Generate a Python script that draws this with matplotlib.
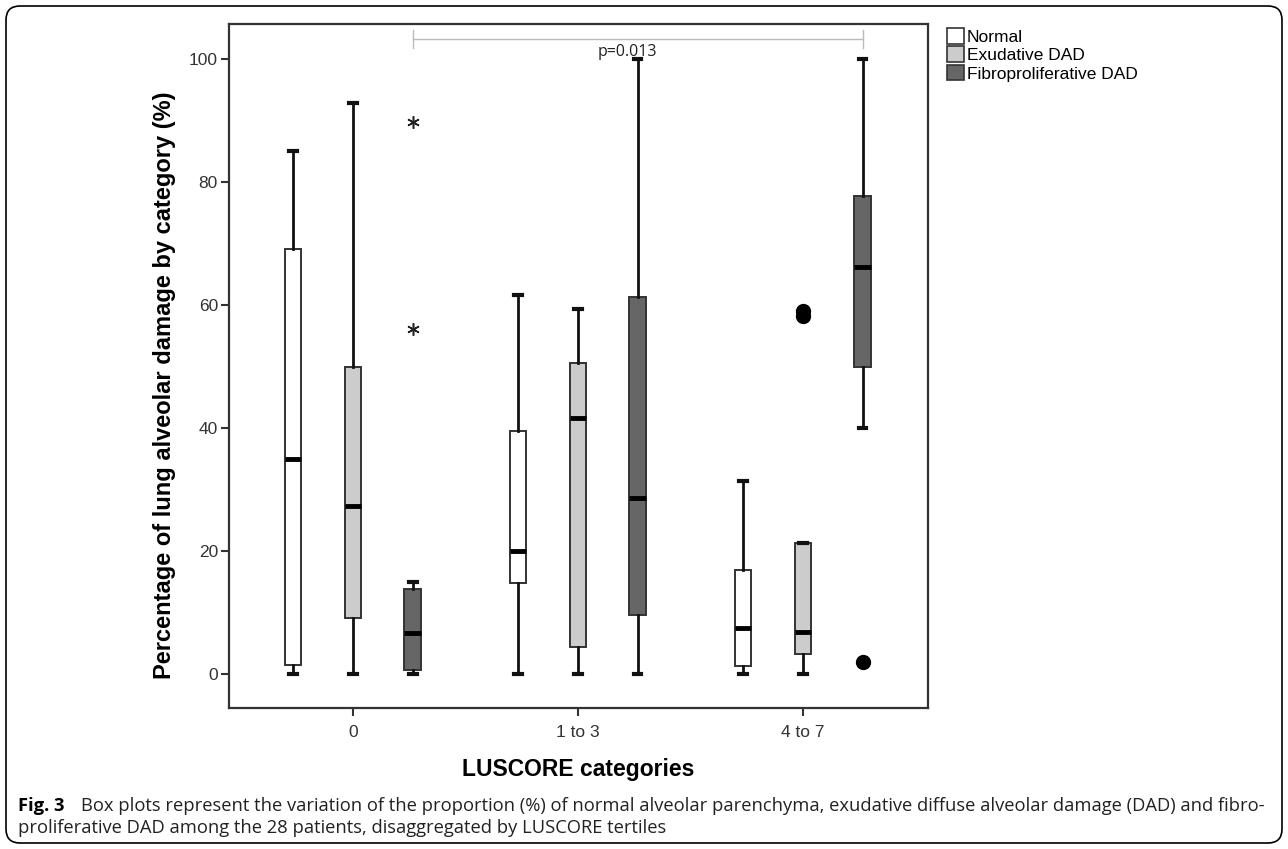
import numpy as np
import matplotlib
matplotlib.use("Agg")
import matplotlib.pyplot as plt
import matplotlib.patches as mpatches
from matplotlib.transforms import IdentityTransform

# data (percent)
groups = ["0", "1 to 3", "4 to 7"]
series = ["Normal", "Exudative DAD", "Fibroproliferative DAD"]
colors = ["#ffffff", "#cccccc", "#666666"]

# rows = series, cols = groups
whislo = [[0, 0, 0], [0, 0, 0], [0, 0, 40.0]]
q1 = [[1.5, 14.8, 1.3], [9.1, 4.4, 3.3], [0.7, 9.6, 49.9]]
med = [[35.0, 20.0, 7.5], [27.3, 41.6, 6.8], [6.7, 28.6, 66.2]]
q3 = [[69.1, 39.5, 16.9], [49.9, 50.6, 21.3], [13.8, 61.3, 77.7]]
whishi = [[85.0, 61.6, 31.4], [92.8, 59.3, 21.3], [15.0, 100.0, 100.0]]

# outliers (circles) and extremes (stars): (series, group, value)
outliers = [(1, 2, 58.2), (1, 2, 59.0), (2, 2, 2.0)]
extremes = [(2, 0, 89.8), (2, 0, 56.1)]

p_text = "p=0.013"

offsets = [-0.265, 0.0, 0.265]
box_w = 0.072

fig = plt.figure(figsize=(12.88, 8.49), dpi=100)
ax = fig.add_axes([229/1288, 1 - 708/849, (928 - 229)/1288, (708 - 24)/849])

for s in range(3):
    stats = []
    pos = []
    for g in range(3):
        stats.append(dict(med=med[s][g], q1=q1[s][g], q3=q3[s][g],
                          whislo=whislo[s][g], whishi=whishi[s][g], fliers=[]))
        pos.append(g + offsets[s])
    ax.bxp(stats, positions=pos, widths=box_w, patch_artist=True,
           showfliers=False, capwidths=0.035,
           boxprops=dict(facecolor=colors[s], edgecolor="#333333", linewidth=1.4),
           medianprops=dict(color="black", linewidth=3.5),
           whiskerprops=dict(color="#111111", linewidth=2),
           capprops=dict(color="#111111", linewidth=3))

for s, g, v in outliers:
    ax.plot(g + offsets[s], v, "o", color="black", markersize=10, zorder=5)
for s, g, v in extremes:
    ax.plot(g + offsets[s], v, marker=(6, 2, 0), color="#222222",
            markersize=9, markeredgewidth=1.1, linestyle="none", zorder=5)

# significance bracket
xa, xb = 0 + offsets[2], 2 + offsets[2]
ax.plot([xa, xb], [103.3, 103.3], color="#bbbbbb", linewidth=1, clip_on=False)
ax.plot([xa, xa], [101.8, 104.8], color="#bbbbbb", linewidth=1, clip_on=False)
ax.plot([xb, xb], [101.8, 104.8], color="#bbbbbb", linewidth=1, clip_on=False)
ax.text(1.22, 101.2, p_text, ha="center", va="center", fontsize=11.5,
        family="Open Sans", color="#222222")

ax.set_xlim(-0.551, 2.556)
ax.set_ylim(-5.5, 105.7)
ax.set_xticks(range(3))
ax.set_xticklabels(groups)
ax.set_yticks([0, 20, 40, 60, 80, 100])
ax.tick_params(axis="both", length=6, width=1.5, color="#333333",
               labelsize=12.5, labelcolor="#333333")
ax.tick_params(axis="x", pad=6.5)
ax.tick_params(axis="y", pad=2)
for sp in ax.spines.values():
    sp.set_linewidth(1.6)
    sp.set_color("#333333")
for lab in ax.get_xticklabels() + ax.get_yticklabels():
    lab.set_family("Liberation Sans")

ax.set_ylabel("Percentage of lung alveolar damage by category (%)",
              fontsize=17, fontweight="bold", family="Liberation Sans")
ax.yaxis.set_label_coords(-0.0758, 0.472)
ax.set_xlabel("LUSCORE categories", fontsize=16.5, fontweight="bold",
              family="Liberation Sans", labelpad=13)

handles = [mpatches.Patch(facecolor=c, edgecolor="#333333", linewidth=1.2) for c in colors]
fig.legend(handles, series, loc="upper left", bbox_to_anchor=(947/1288, 1 - 28/849),
           frameon=False, handlelength=1.0, handleheight=1.0, handletextpad=0.15,
           labelspacing=0.1, borderpad=0, borderaxespad=0,
           prop=dict(family="Liberation Sans", size=12.5))

# caption
fig.text(18/1288, 1 - 811/849, "Fig. 3", fontsize=13.2, fontweight="bold",
         family="Open Sans", va="baseline", ha="left")
fig.text(81/1288, 1 - 811/849,
         "Box plots represent the variation of the proportion (%) of normal alveolar parenchyma, "
         "exudative diffuse alveolar damage (DAD) and fibro-",
         fontsize=13.2, family="Open Sans", va="baseline", ha="left", color="#222222")
fig.text(18/1288, 1 - 833/849,
         "proliferative DAD among the 28 patients, disaggregated by LUSCORE tertiles",
         fontsize=13.2, family="Open Sans", va="baseline", ha="left", color="#222222")

# rounded frame around figure
frame = mpatches.FancyBboxPatch((6, 6), 1276, 837,
                                boxstyle="round,pad=0,rounding_size=14",
                                transform=IdentityTransform(), facecolor="none",
                                edgecolor="black", linewidth=1.2)
fig.patches.append(frame)

fig.savefig("out.png", dpi=100)
